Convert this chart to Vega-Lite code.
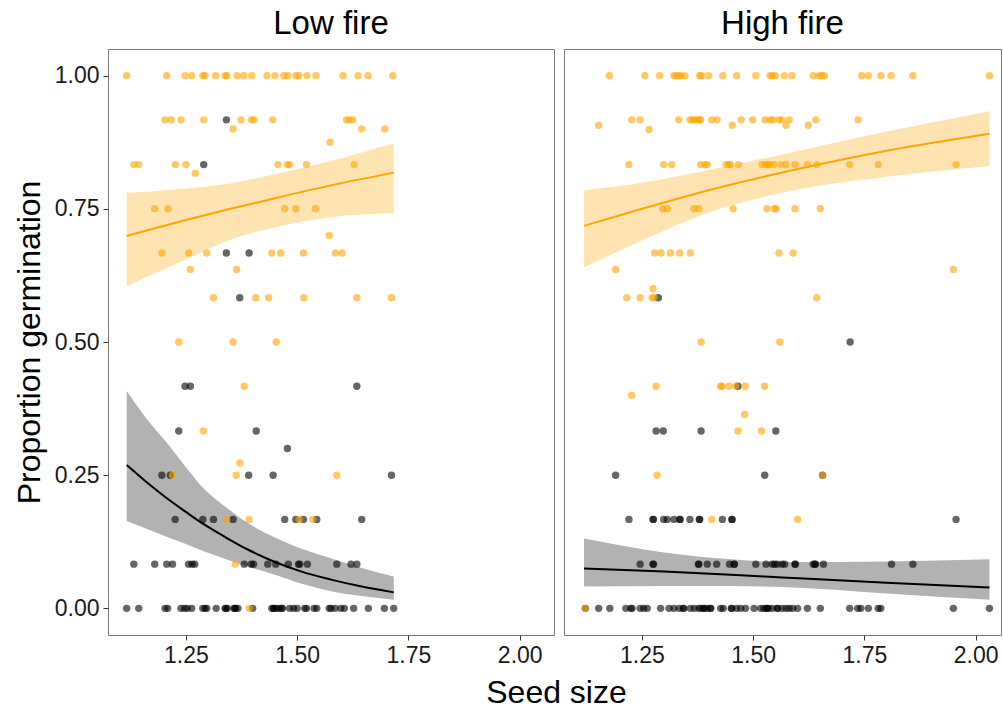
{
"$schema": "https://vega.github.io/schema/vega-lite/v6.json",
"padding": {"left": 12, "top": 7, "right": 0, "bottom": 0},
"spacing": 10,
"bounds": "flush",
"config": {"font": "Liberation Sans", "view": {"stroke": "#7a7a7a", "strokeWidth": 1},
 "axis": {"grid": false, "domain": false, "tickSize": 5, "tickColor": "#333333", "labelColor": "#1a1a1a", "labelFontSize": 23, "labelPadding": 4, "titleFontSize": 32, "titleFontWeight": "normal", "titleColor": "#000000"},
 "title": {"fontSize": 33, "fontWeight": "normal", "color": "#000000", "anchor": "middle", "offset": 8}},
"datasets": {
"model": [
{"p":"Low fire","c":"orange","x":1.117,"fit":0.699,"lo":0.605,"hi":0.780},
{"p":"Low fire","c":"orange","x":1.25,"fit":0.729,"lo":0.655,"hi":0.788},
{"p":"Low fire","c":"orange","x":1.35,"fit":0.750,"lo":0.692,"hi":0.798},
{"p":"Low fire","c":"orange","x":1.45,"fit":0.770,"lo":0.715,"hi":0.815},
{"p":"Low fire","c":"orange","x":1.576,"fit":0.794,"lo":0.734,"hi":0.840},
{"p":"Low fire","c":"orange","x":1.717,"fit":0.818,"lo":0.742,"hi":0.873},
{"p":"Low fire","c":"black","x":1.117,"fit":0.269,"lo":0.164,"hi":0.408},
{"p":"Low fire","c":"black","x":1.16,"fit":0.238,"lo":0.150,"hi":0.358},
{"p":"Low fire","c":"black","x":1.205,"fit":0.208,"lo":0.135,"hi":0.313},
{"p":"Low fire","c":"black","x":1.25,"fit":0.181,"lo":0.121,"hi":0.265},
{"p":"Low fire","c":"black","x":1.29,"fit":0.158,"lo":0.107,"hi":0.225},
{"p":"Low fire","c":"black","x":1.34,"fit":0.133,"lo":0.092,"hi":0.190},
{"p":"Low fire","c":"black","x":1.39,"fit":0.110,"lo":0.078,"hi":0.160},
{"p":"Low fire","c":"black","x":1.45,"fit":0.087,"lo":0.063,"hi":0.133},
{"p":"Low fire","c":"black","x":1.51,"fit":0.069,"lo":0.046,"hi":0.112},
{"p":"Low fire","c":"black","x":1.576,"fit":0.054,"lo":0.032,"hi":0.094},
{"p":"Low fire","c":"black","x":1.645,"fit":0.041,"lo":0.023,"hi":0.076},
{"p":"Low fire","c":"black","x":1.717,"fit":0.030,"lo":0.016,"hi":0.060},
{"p":"High fire","c":"orange","x":1.120,"fit":0.718,"lo":0.640,"hi":0.785},
{"p":"High fire","c":"orange","x":1.25,"fit":0.750,"lo":0.690,"hi":0.799},
{"p":"High fire","c":"orange","x":1.40,"fit":0.785,"lo":0.743,"hi":0.823},
{"p":"High fire","c":"orange","x":1.565,"fit":0.818,"lo":0.780,"hi":0.852},
{"p":"High fire","c":"orange","x":1.80,"fit":0.859,"lo":0.810,"hi":0.895},
{"p":"High fire","c":"orange","x":2.031,"fit":0.891,"lo":0.830,"hi":0.933},
{"p":"High fire","c":"black","x":1.120,"fit":0.075,"lo":0.041,"hi":0.131},
{"p":"High fire","c":"black","x":1.30,"fit":0.069,"lo":0.042,"hi":0.105},
{"p":"High fire","c":"black","x":1.45,"fit":0.063,"lo":0.042,"hi":0.092},
{"p":"High fire","c":"black","x":1.565,"fit":0.058,"lo":0.040,"hi":0.087},
{"p":"High fire","c":"black","x":1.80,"fit":0.048,"lo":0.028,"hi":0.088},
{"p":"High fire","c":"black","x":2.031,"fit":0.039,"lo":0.016,"hi":0.092}
],
"pts": [
{"p":"Low fire","c":"black","x":1.341,"y":0.917},
{"p":"Low fire","c":"black","x":1.290,"y":0.833},
{"p":"Low fire","c":"black","x":1.341,"y":0.667},
{"p":"Low fire","c":"black","x":1.392,"y":0.667},
{"p":"Low fire","c":"black","x":1.371,"y":0.583},
{"p":"Low fire","c":"black","x":1.248,"y":0.417},
{"p":"Low fire","c":"black","x":1.260,"y":0.417},
{"p":"Low fire","c":"black","x":1.634,"y":0.417},
{"p":"Low fire","c":"black","x":1.234,"y":0.333},
{"p":"Low fire","c":"black","x":1.408,"y":0.333},
{"p":"Low fire","c":"black","x":1.478,"y":0.3},
{"p":"Low fire","c":"black","x":1.196,"y":0.25},
{"p":"Low fire","c":"black","x":1.215,"y":0.25},
{"p":"Low fire","c":"black","x":1.391,"y":0.25},
{"p":"Low fire","c":"black","x":1.446,"y":0.25},
{"p":"Low fire","c":"black","x":1.712,"y":0.25},
{"p":"Low fire","c":"black","x":1.226,"y":0.167},
{"p":"Low fire","c":"black","x":1.288,"y":0.167},
{"p":"Low fire","c":"black","x":1.312,"y":0.167},
{"p":"Low fire","c":"black","x":1.356,"y":0.167},
{"p":"Low fire","c":"black","x":1.472,"y":0.167},
{"p":"Low fire","c":"black","x":1.497,"y":0.167},
{"p":"Low fire","c":"black","x":1.514,"y":0.167},
{"p":"Low fire","c":"black","x":1.544,"y":0.167},
{"p":"Low fire","c":"black","x":1.645,"y":0.167},
{"p":"Low fire","c":"black","x":1.133,"y":0.083},
{"p":"Low fire","c":"black","x":1.180,"y":0.083},
{"p":"Low fire","c":"black","x":1.207,"y":0.083},
{"p":"Low fire","c":"black","x":1.220,"y":0.083},
{"p":"Low fire","c":"black","x":1.256,"y":0.083},
{"p":"Low fire","c":"black","x":1.264,"y":0.083},
{"p":"Low fire","c":"black","x":1.270,"y":0.083},
{"p":"Low fire","c":"black","x":1.381,"y":0.083},
{"p":"Low fire","c":"black","x":1.397,"y":0.083},
{"p":"Low fire","c":"black","x":1.402,"y":0.083},
{"p":"Low fire","c":"black","x":1.434,"y":0.083},
{"p":"Low fire","c":"black","x":1.452,"y":0.083},
{"p":"Low fire","c":"black","x":1.480,"y":0.083},
{"p":"Low fire","c":"black","x":1.503,"y":0.083},
{"p":"Low fire","c":"black","x":1.506,"y":0.083},
{"p":"Low fire","c":"black","x":1.523,"y":0.083},
{"p":"Low fire","c":"black","x":1.589,"y":0.083},
{"p":"Low fire","c":"black","x":1.621,"y":0.083},
{"p":"Low fire","c":"black","x":1.634,"y":0.083},
{"p":"Low fire","c":"black","x":1.117,"y":0},
{"p":"Low fire","c":"black","x":1.144,"y":0},
{"p":"Low fire","c":"black","x":1.203,"y":0},
{"p":"Low fire","c":"black","x":1.209,"y":0},
{"p":"Low fire","c":"black","x":1.239,"y":0},
{"p":"Low fire","c":"black","x":1.247,"y":0},
{"p":"Low fire","c":"black","x":1.253,"y":0},
{"p":"Low fire","c":"black","x":1.263,"y":0},
{"p":"Low fire","c":"black","x":1.288,"y":0},
{"p":"Low fire","c":"black","x":1.293,"y":0},
{"p":"Low fire","c":"black","x":1.297,"y":0},
{"p":"Low fire","c":"black","x":1.318,"y":0},
{"p":"Low fire","c":"black","x":1.338,"y":0},
{"p":"Low fire","c":"black","x":1.340,"y":0},
{"p":"Low fire","c":"black","x":1.343,"y":0},
{"p":"Low fire","c":"black","x":1.358,"y":0},
{"p":"Low fire","c":"black","x":1.360,"y":0},
{"p":"Low fire","c":"black","x":1.362,"y":0},
{"p":"Low fire","c":"black","x":1.367,"y":0},
{"p":"Low fire","c":"black","x":1.400,"y":0},
{"p":"Low fire","c":"black","x":1.443,"y":0},
{"p":"Low fire","c":"black","x":1.447,"y":0},
{"p":"Low fire","c":"black","x":1.448,"y":0},
{"p":"Low fire","c":"black","x":1.454,"y":0},
{"p":"Low fire","c":"black","x":1.460,"y":0},
{"p":"Low fire","c":"black","x":1.465,"y":0},
{"p":"Low fire","c":"black","x":1.467,"y":0},
{"p":"Low fire","c":"black","x":1.483,"y":0},
{"p":"Low fire","c":"black","x":1.492,"y":0},
{"p":"Low fire","c":"black","x":1.500,"y":0},
{"p":"Low fire","c":"black","x":1.517,"y":0},
{"p":"Low fire","c":"black","x":1.521,"y":0},
{"p":"Low fire","c":"black","x":1.538,"y":0},
{"p":"Low fire","c":"black","x":1.544,"y":0},
{"p":"Low fire","c":"black","x":1.572,"y":0},
{"p":"Low fire","c":"black","x":1.576,"y":0},
{"p":"Low fire","c":"black","x":1.585,"y":0},
{"p":"Low fire","c":"black","x":1.598,"y":0},
{"p":"Low fire","c":"black","x":1.606,"y":0},
{"p":"Low fire","c":"black","x":1.627,"y":0},
{"p":"Low fire","c":"black","x":1.660,"y":0},
{"p":"Low fire","c":"black","x":1.696,"y":0},
{"p":"Low fire","c":"black","x":1.717,"y":0},
{"p":"Low fire","c":"orange","x":1.117,"y":1},
{"p":"Low fire","c":"orange","x":1.207,"y":1},
{"p":"Low fire","c":"orange","x":1.248,"y":1},
{"p":"Low fire","c":"orange","x":1.263,"y":1},
{"p":"Low fire","c":"orange","x":1.288,"y":1},
{"p":"Low fire","c":"orange","x":1.293,"y":1},
{"p":"Low fire","c":"orange","x":1.317,"y":1},
{"p":"Low fire","c":"orange","x":1.338,"y":1},
{"p":"Low fire","c":"orange","x":1.342,"y":1},
{"p":"Low fire","c":"orange","x":1.365,"y":1},
{"p":"Low fire","c":"orange","x":1.380,"y":1},
{"p":"Low fire","c":"orange","x":1.398,"y":1},
{"p":"Low fire","c":"orange","x":1.432,"y":1},
{"p":"Low fire","c":"orange","x":1.450,"y":1},
{"p":"Low fire","c":"orange","x":1.470,"y":1},
{"p":"Low fire","c":"orange","x":1.479,"y":1},
{"p":"Low fire","c":"orange","x":1.497,"y":1},
{"p":"Low fire","c":"orange","x":1.504,"y":1},
{"p":"Low fire","c":"orange","x":1.522,"y":1},
{"p":"Low fire","c":"orange","x":1.542,"y":1},
{"p":"Low fire","c":"orange","x":1.603,"y":1},
{"p":"Low fire","c":"orange","x":1.637,"y":1},
{"p":"Low fire","c":"orange","x":1.659,"y":1},
{"p":"Low fire","c":"orange","x":1.715,"y":1},
{"p":"Low fire","c":"orange","x":1.203,"y":0.917},
{"p":"Low fire","c":"orange","x":1.217,"y":0.917},
{"p":"Low fire","c":"orange","x":1.239,"y":0.917},
{"p":"Low fire","c":"orange","x":1.290,"y":0.917},
{"p":"Low fire","c":"orange","x":1.374,"y":0.917},
{"p":"Low fire","c":"orange","x":1.397,"y":0.917},
{"p":"Low fire","c":"orange","x":1.403,"y":0.917},
{"p":"Low fire","c":"orange","x":1.445,"y":0.917},
{"p":"Low fire","c":"orange","x":1.611,"y":0.917},
{"p":"Low fire","c":"orange","x":1.617,"y":0.917},
{"p":"Low fire","c":"orange","x":1.625,"y":0.917},
{"p":"Low fire","c":"orange","x":1.356,"y":0.9},
{"p":"Low fire","c":"orange","x":1.645,"y":0.9},
{"p":"Low fire","c":"orange","x":1.697,"y":0.9},
{"p":"Low fire","c":"orange","x":1.574,"y":0.875},
{"p":"Low fire","c":"orange","x":1.133,"y":0.833},
{"p":"Low fire","c":"orange","x":1.144,"y":0.833},
{"p":"Low fire","c":"orange","x":1.226,"y":0.833},
{"p":"Low fire","c":"orange","x":1.250,"y":0.833},
{"p":"Low fire","c":"orange","x":1.457,"y":0.833},
{"p":"Low fire","c":"orange","x":1.478,"y":0.833},
{"p":"Low fire","c":"orange","x":1.483,"y":0.833},
{"p":"Low fire","c":"orange","x":1.521,"y":0.833},
{"p":"Low fire","c":"orange","x":1.628,"y":0.833},
{"p":"Low fire","c":"orange","x":1.271,"y":0.817},
{"p":"Low fire","c":"orange","x":1.180,"y":0.75},
{"p":"Low fire","c":"orange","x":1.210,"y":0.75},
{"p":"Low fire","c":"orange","x":1.472,"y":0.75},
{"p":"Low fire","c":"orange","x":1.497,"y":0.75},
{"p":"Low fire","c":"orange","x":1.541,"y":0.75},
{"p":"Low fire","c":"orange","x":1.572,"y":0.7},
{"p":"Low fire","c":"orange","x":1.196,"y":0.667},
{"p":"Low fire","c":"orange","x":1.256,"y":0.667},
{"p":"Low fire","c":"orange","x":1.297,"y":0.667},
{"p":"Low fire","c":"orange","x":1.443,"y":0.667},
{"p":"Low fire","c":"orange","x":1.463,"y":0.667},
{"p":"Low fire","c":"orange","x":1.514,"y":0.667},
{"p":"Low fire","c":"orange","x":1.586,"y":0.667},
{"p":"Low fire","c":"orange","x":1.601,"y":0.667},
{"p":"Low fire","c":"orange","x":1.260,"y":0.636},
{"p":"Low fire","c":"orange","x":1.364,"y":0.636},
{"p":"Low fire","c":"orange","x":1.312,"y":0.583},
{"p":"Low fire","c":"orange","x":1.407,"y":0.583},
{"p":"Low fire","c":"orange","x":1.436,"y":0.583},
{"p":"Low fire","c":"orange","x":1.515,"y":0.583},
{"p":"Low fire","c":"orange","x":1.634,"y":0.583},
{"p":"Low fire","c":"orange","x":1.712,"y":0.583},
{"p":"Low fire","c":"orange","x":1.234,"y":0.5},
{"p":"Low fire","c":"orange","x":1.356,"y":0.5},
{"p":"Low fire","c":"orange","x":1.453,"y":0.5},
{"p":"Low fire","c":"orange","x":1.381,"y":0.417},
{"p":"Low fire","c":"orange","x":1.289,"y":0.333},
{"p":"Low fire","c":"orange","x":1.371,"y":0.273},
{"p":"Low fire","c":"orange","x":1.220,"y":0.25},
{"p":"Low fire","c":"orange","x":1.363,"y":0.25},
{"p":"Low fire","c":"orange","x":1.589,"y":0.25},
{"p":"Low fire","c":"orange","x":1.341,"y":0.167},
{"p":"Low fire","c":"orange","x":1.392,"y":0.167},
{"p":"Low fire","c":"orange","x":1.505,"y":0.167},
{"p":"Low fire","c":"orange","x":1.535,"y":0.167},
{"p":"Low fire","c":"orange","x":1.361,"y":0.083},
{"p":"Low fire","c":"orange","x":1.392,"y":0},
{"p":"High fire","c":"black","x":1.287,"y":0.583},
{"p":"High fire","c":"black","x":1.718,"y":0.5},
{"p":"High fire","c":"black","x":1.466,"y":0.417},
{"p":"High fire","c":"black","x":1.282,"y":0.333},
{"p":"High fire","c":"black","x":1.298,"y":0.333},
{"p":"High fire","c":"black","x":1.383,"y":0.333},
{"p":"High fire","c":"black","x":1.551,"y":0.333},
{"p":"High fire","c":"black","x":1.191,"y":0.25},
{"p":"High fire","c":"black","x":1.526,"y":0.25},
{"p":"High fire","c":"black","x":1.656,"y":0.25},
{"p":"High fire","c":"black","x":1.221,"y":0.167},
{"p":"High fire","c":"black","x":1.275,"y":0.167},
{"p":"High fire","c":"black","x":1.276,"y":0.167},
{"p":"High fire","c":"black","x":1.299,"y":0.167},
{"p":"High fire","c":"black","x":1.307,"y":0.167},
{"p":"High fire","c":"black","x":1.322,"y":0.167},
{"p":"High fire","c":"black","x":1.335,"y":0.167},
{"p":"High fire","c":"black","x":1.336,"y":0.167},
{"p":"High fire","c":"black","x":1.358,"y":0.167},
{"p":"High fire","c":"black","x":1.379,"y":0.167},
{"p":"High fire","c":"black","x":1.380,"y":0.167},
{"p":"High fire","c":"black","x":1.431,"y":0.167},
{"p":"High fire","c":"black","x":1.452,"y":0.167},
{"p":"High fire","c":"black","x":1.453,"y":0.167},
{"p":"High fire","c":"black","x":1.956,"y":0.167},
{"p":"High fire","c":"black","x":1.246,"y":0.083},
{"p":"High fire","c":"black","x":1.275,"y":0.083},
{"p":"High fire","c":"black","x":1.276,"y":0.083},
{"p":"High fire","c":"black","x":1.377,"y":0.083},
{"p":"High fire","c":"black","x":1.378,"y":0.083},
{"p":"High fire","c":"black","x":1.397,"y":0.083},
{"p":"High fire","c":"black","x":1.418,"y":0.083},
{"p":"High fire","c":"black","x":1.447,"y":0.083},
{"p":"High fire","c":"black","x":1.457,"y":0.083},
{"p":"High fire","c":"black","x":1.458,"y":0.083},
{"p":"High fire","c":"black","x":1.506,"y":0.083},
{"p":"High fire","c":"black","x":1.529,"y":0.083},
{"p":"High fire","c":"black","x":1.543,"y":0.083},
{"p":"High fire","c":"black","x":1.548,"y":0.083},
{"p":"High fire","c":"black","x":1.554,"y":0.083},
{"p":"High fire","c":"black","x":1.565,"y":0.083},
{"p":"High fire","c":"black","x":1.571,"y":0.083},
{"p":"High fire","c":"black","x":1.594,"y":0.083},
{"p":"High fire","c":"black","x":1.595,"y":0.083},
{"p":"High fire","c":"black","x":1.635,"y":0.083},
{"p":"High fire","c":"black","x":1.639,"y":0.083},
{"p":"High fire","c":"black","x":1.640,"y":0.083},
{"p":"High fire","c":"black","x":1.658,"y":0.083},
{"p":"High fire","c":"black","x":1.811,"y":0.083},
{"p":"High fire","c":"black","x":1.859,"y":0.083},
{"p":"High fire","c":"black","x":1.123,"y":0},
{"p":"High fire","c":"black","x":1.153,"y":0},
{"p":"High fire","c":"black","x":1.178,"y":0},
{"p":"High fire","c":"black","x":1.214,"y":0},
{"p":"High fire","c":"black","x":1.225,"y":0},
{"p":"High fire","c":"black","x":1.228,"y":0},
{"p":"High fire","c":"black","x":1.246,"y":0},
{"p":"High fire","c":"black","x":1.254,"y":0},
{"p":"High fire","c":"black","x":1.262,"y":0},
{"p":"High fire","c":"black","x":1.292,"y":0},
{"p":"High fire","c":"black","x":1.311,"y":0},
{"p":"High fire","c":"black","x":1.322,"y":0},
{"p":"High fire","c":"black","x":1.334,"y":0},
{"p":"High fire","c":"black","x":1.343,"y":0},
{"p":"High fire","c":"black","x":1.344,"y":0},
{"p":"High fire","c":"black","x":1.359,"y":0},
{"p":"High fire","c":"black","x":1.368,"y":0},
{"p":"High fire","c":"black","x":1.378,"y":0},
{"p":"High fire","c":"black","x":1.383,"y":0},
{"p":"High fire","c":"black","x":1.389,"y":0},
{"p":"High fire","c":"black","x":1.390,"y":0},
{"p":"High fire","c":"black","x":1.397,"y":0},
{"p":"High fire","c":"black","x":1.404,"y":0},
{"p":"High fire","c":"black","x":1.405,"y":0},
{"p":"High fire","c":"black","x":1.427,"y":0},
{"p":"High fire","c":"black","x":1.433,"y":0},
{"p":"High fire","c":"black","x":1.451,"y":0},
{"p":"High fire","c":"black","x":1.452,"y":0},
{"p":"High fire","c":"black","x":1.463,"y":0},
{"p":"High fire","c":"black","x":1.472,"y":0},
{"p":"High fire","c":"black","x":1.483,"y":0},
{"p":"High fire","c":"black","x":1.502,"y":0},
{"p":"High fire","c":"black","x":1.517,"y":0},
{"p":"High fire","c":"black","x":1.524,"y":0},
{"p":"High fire","c":"black","x":1.530,"y":0},
{"p":"High fire","c":"black","x":1.531,"y":0},
{"p":"High fire","c":"black","x":1.535,"y":0},
{"p":"High fire","c":"black","x":1.543,"y":0},
{"p":"High fire","c":"black","x":1.554,"y":0},
{"p":"High fire","c":"black","x":1.555,"y":0},
{"p":"High fire","c":"black","x":1.565,"y":0},
{"p":"High fire","c":"black","x":1.574,"y":0},
{"p":"High fire","c":"black","x":1.581,"y":0},
{"p":"High fire","c":"black","x":1.589,"y":0},
{"p":"High fire","c":"black","x":1.600,"y":0},
{"p":"High fire","c":"black","x":1.622,"y":0},
{"p":"High fire","c":"black","x":1.651,"y":0},
{"p":"High fire","c":"black","x":1.717,"y":0},
{"p":"High fire","c":"black","x":1.735,"y":0},
{"p":"High fire","c":"black","x":1.742,"y":0},
{"p":"High fire","c":"black","x":1.759,"y":0},
{"p":"High fire","c":"black","x":1.781,"y":0},
{"p":"High fire","c":"black","x":1.787,"y":0},
{"p":"High fire","c":"black","x":1.950,"y":0},
{"p":"High fire","c":"black","x":2.031,"y":0},
{"p":"High fire","c":"orange","x":1.177,"y":1},
{"p":"High fire","c":"orange","x":1.257,"y":1},
{"p":"High fire","c":"orange","x":1.290,"y":1},
{"p":"High fire","c":"orange","x":1.322,"y":1},
{"p":"High fire","c":"orange","x":1.327,"y":1},
{"p":"High fire","c":"orange","x":1.333,"y":1},
{"p":"High fire","c":"orange","x":1.338,"y":1},
{"p":"High fire","c":"orange","x":1.347,"y":1},
{"p":"High fire","c":"orange","x":1.380,"y":1},
{"p":"High fire","c":"orange","x":1.384,"y":1},
{"p":"High fire","c":"orange","x":1.400,"y":1},
{"p":"High fire","c":"orange","x":1.432,"y":1},
{"p":"High fire","c":"orange","x":1.463,"y":1},
{"p":"High fire","c":"orange","x":1.506,"y":1},
{"p":"High fire","c":"orange","x":1.538,"y":1},
{"p":"High fire","c":"orange","x":1.543,"y":1},
{"p":"High fire","c":"orange","x":1.550,"y":1},
{"p":"High fire","c":"orange","x":1.570,"y":1},
{"p":"High fire","c":"orange","x":1.587,"y":1},
{"p":"High fire","c":"orange","x":1.635,"y":1},
{"p":"High fire","c":"orange","x":1.648,"y":1},
{"p":"High fire","c":"orange","x":1.654,"y":1},
{"p":"High fire","c":"orange","x":1.660,"y":1},
{"p":"High fire","c":"orange","x":1.744,"y":1},
{"p":"High fire","c":"orange","x":1.759,"y":1},
{"p":"High fire","c":"orange","x":1.787,"y":1},
{"p":"High fire","c":"orange","x":1.810,"y":1},
{"p":"High fire","c":"orange","x":1.859,"y":1},
{"p":"High fire","c":"orange","x":2.031,"y":1},
{"p":"High fire","c":"orange","x":1.227,"y":0.917},
{"p":"High fire","c":"orange","x":1.246,"y":0.917},
{"p":"High fire","c":"orange","x":1.333,"y":0.917},
{"p":"High fire","c":"orange","x":1.358,"y":0.917},
{"p":"High fire","c":"orange","x":1.363,"y":0.917},
{"p":"High fire","c":"orange","x":1.369,"y":0.917},
{"p":"High fire","c":"orange","x":1.375,"y":0.917},
{"p":"High fire","c":"orange","x":1.380,"y":0.917},
{"p":"High fire","c":"orange","x":1.382,"y":0.917},
{"p":"High fire","c":"orange","x":1.407,"y":0.917},
{"p":"High fire","c":"orange","x":1.419,"y":0.917},
{"p":"High fire","c":"orange","x":1.473,"y":0.917},
{"p":"High fire","c":"orange","x":1.499,"y":0.917},
{"p":"High fire","c":"orange","x":1.527,"y":0.917},
{"p":"High fire","c":"orange","x":1.538,"y":0.917},
{"p":"High fire","c":"orange","x":1.545,"y":0.917},
{"p":"High fire","c":"orange","x":1.558,"y":0.917},
{"p":"High fire","c":"orange","x":1.565,"y":0.917},
{"p":"High fire","c":"orange","x":1.581,"y":0.917},
{"p":"High fire","c":"orange","x":1.641,"y":0.917},
{"p":"High fire","c":"orange","x":1.736,"y":0.917},
{"p":"High fire","c":"orange","x":1.153,"y":0.907},
{"p":"High fire","c":"orange","x":1.453,"y":0.907},
{"p":"High fire","c":"orange","x":1.574,"y":0.907},
{"p":"High fire","c":"orange","x":1.624,"y":0.907},
{"p":"High fire","c":"orange","x":1.266,"y":0.899},
{"p":"High fire","c":"orange","x":1.221,"y":0.833},
{"p":"High fire","c":"orange","x":1.299,"y":0.833},
{"p":"High fire","c":"orange","x":1.317,"y":0.833},
{"p":"High fire","c":"orange","x":1.382,"y":0.833},
{"p":"High fire","c":"orange","x":1.392,"y":0.833},
{"p":"High fire","c":"orange","x":1.397,"y":0.833},
{"p":"High fire","c":"orange","x":1.439,"y":0.833},
{"p":"High fire","c":"orange","x":1.445,"y":0.833},
{"p":"High fire","c":"orange","x":1.449,"y":0.833},
{"p":"High fire","c":"orange","x":1.467,"y":0.833},
{"p":"High fire","c":"orange","x":1.520,"y":0.833},
{"p":"High fire","c":"orange","x":1.528,"y":0.833},
{"p":"High fire","c":"orange","x":1.533,"y":0.833},
{"p":"High fire","c":"orange","x":1.537,"y":0.833},
{"p":"High fire","c":"orange","x":1.547,"y":0.833},
{"p":"High fire","c":"orange","x":1.563,"y":0.833},
{"p":"High fire","c":"orange","x":1.574,"y":0.833},
{"p":"High fire","c":"orange","x":1.594,"y":0.833},
{"p":"High fire","c":"orange","x":1.622,"y":0.833},
{"p":"High fire","c":"orange","x":1.643,"y":0.833},
{"p":"High fire","c":"orange","x":1.717,"y":0.833},
{"p":"High fire","c":"orange","x":1.781,"y":0.833},
{"p":"High fire","c":"orange","x":1.956,"y":0.833},
{"p":"High fire","c":"orange","x":1.297,"y":0.75},
{"p":"High fire","c":"orange","x":1.307,"y":0.75},
{"p":"High fire","c":"orange","x":1.367,"y":0.75},
{"p":"High fire","c":"orange","x":1.378,"y":0.75},
{"p":"High fire","c":"orange","x":1.455,"y":0.75},
{"p":"High fire","c":"orange","x":1.531,"y":0.75},
{"p":"High fire","c":"orange","x":1.547,"y":0.75},
{"p":"High fire","c":"orange","x":1.552,"y":0.75},
{"p":"High fire","c":"orange","x":1.594,"y":0.75},
{"p":"High fire","c":"orange","x":1.651,"y":0.75},
{"p":"High fire","c":"orange","x":1.279,"y":0.667},
{"p":"High fire","c":"orange","x":1.293,"y":0.667},
{"p":"High fire","c":"orange","x":1.314,"y":0.667},
{"p":"High fire","c":"orange","x":1.335,"y":0.667},
{"p":"High fire","c":"orange","x":1.359,"y":0.667},
{"p":"High fire","c":"orange","x":1.558,"y":0.667},
{"p":"High fire","c":"orange","x":1.590,"y":0.667},
{"p":"High fire","c":"orange","x":1.191,"y":0.636},
{"p":"High fire","c":"orange","x":1.950,"y":0.636},
{"p":"High fire","c":"orange","x":1.275,"y":0.6},
{"p":"High fire","c":"orange","x":1.216,"y":0.583},
{"p":"High fire","c":"orange","x":1.246,"y":0.583},
{"p":"High fire","c":"orange","x":1.273,"y":0.583},
{"p":"High fire","c":"orange","x":1.277,"y":0.583},
{"p":"High fire","c":"orange","x":1.643,"y":0.583},
{"p":"High fire","c":"orange","x":1.383,"y":0.5},
{"p":"High fire","c":"orange","x":1.560,"y":0.5},
{"p":"High fire","c":"orange","x":1.282,"y":0.417},
{"p":"High fire","c":"orange","x":1.427,"y":0.417},
{"p":"High fire","c":"orange","x":1.430,"y":0.417},
{"p":"High fire","c":"orange","x":1.446,"y":0.417},
{"p":"High fire","c":"orange","x":1.461,"y":0.417},
{"p":"High fire","c":"orange","x":1.482,"y":0.417},
{"p":"High fire","c":"orange","x":1.526,"y":0.417},
{"p":"High fire","c":"orange","x":1.227,"y":0.4},
{"p":"High fire","c":"orange","x":1.481,"y":0.364},
{"p":"High fire","c":"orange","x":1.466,"y":0.333},
{"p":"High fire","c":"orange","x":1.519,"y":0.333},
{"p":"High fire","c":"orange","x":1.284,"y":0.25},
{"p":"High fire","c":"orange","x":1.656,"y":0.25},
{"p":"High fire","c":"orange","x":1.407,"y":0.167},
{"p":"High fire","c":"orange","x":1.600,"y":0.167},
{"p":"High fire","c":"orange","x":1.123,"y":0}
]},
"hconcat": [
{
 "width": 446, "height": 586,
 "title": {"text": "Low fire"},
 "layer": [
  {"data": {"name": "model"}, "transform": [{"filter": "datum.p === 'Low fire'"}],
   "mark": {"type": "area", "opacity": 0.3, "interpolate": "monotone"},
   "encoding": {
    "x": {"field": "x", "type": "quantitative", "scale": {"domain": [1.075, 2.077], "nice": false, "zero": false},
     "axis": {"values": [1.25, 1.5, 1.75, 2.0], "format": ".2f", "title": "Seed size", "titleX": 448, "titlePadding": 10}},
    "y": {"field": "lo", "type": "quantitative", "scale": {"domain": [-0.05, 1.05], "nice": false, "zero": false},
     "axis": {"values": [0, 0.25, 0.5, 0.75, 1], "format": ".2f", "title": "Proportion germination", "titlePadding": 8}},
    "y2": {"field": "hi"},
    "color": {"field": "c", "type": "nominal", "scale": {"domain": ["orange", "black"], "range": ["#FFA500", "#000000"]}, "legend": null}
   }},
  {"data": {"name": "model"}, "transform": [{"filter": "datum.p === 'Low fire'"}],
   "mark": {"type": "line", "strokeWidth": 2, "interpolate": "monotone"},
   "encoding": {
    "x": {"field": "x", "type": "quantitative"},
    "y": {"field": "fit", "type": "quantitative"},
    "color": {"field": "c", "type": "nominal", "legend": null}
   }},
  {"data": {"name": "pts"}, "transform": [{"filter": "datum.p === 'Low fire'"}],
   "mark": {"type": "circle", "size": 55, "opacity": 0.6},
   "encoding": {
    "x": {"field": "x", "type": "quantitative"},
    "y": {"field": "y", "type": "quantitative"},
    "color": {"field": "c", "type": "nominal", "legend": null}
   }}
 ]
},
{
 "width": 437, "height": 586,
 "title": {"text": "High fire"},
 "layer": [
  {"data": {"name": "model"}, "transform": [{"filter": "datum.p === 'High fire'"}],
   "mark": {"type": "area", "opacity": 0.3, "interpolate": "monotone"},
   "encoding": {
    "x": {"field": "x", "type": "quantitative", "scale": {"domain": [1.075, 2.057], "nice": false, "zero": false},
     "axis": {"values": [1.25, 1.5, 1.75, 2.0], "format": ".2f", "title": null}},
    "y": {"field": "lo", "type": "quantitative", "scale": {"domain": [-0.05, 1.05], "nice": false, "zero": false}, "axis": null},
    "y2": {"field": "hi"},
    "color": {"field": "c", "type": "nominal", "scale": {"domain": ["orange", "black"], "range": ["#FFA500", "#000000"]}, "legend": null}
   }},
  {"data": {"name": "model"}, "transform": [{"filter": "datum.p === 'High fire'"}],
   "mark": {"type": "line", "strokeWidth": 2, "interpolate": "monotone"},
   "encoding": {
    "x": {"field": "x", "type": "quantitative"},
    "y": {"field": "fit", "type": "quantitative"},
    "color": {"field": "c", "type": "nominal", "legend": null}
   }},
  {"data": {"name": "pts"}, "transform": [{"filter": "datum.p === 'High fire'"}],
   "mark": {"type": "circle", "size": 55, "opacity": 0.6},
   "encoding": {
    "x": {"field": "x", "type": "quantitative"},
    "y": {"field": "y", "type": "quantitative"},
    "color": {"field": "c", "type": "nominal", "legend": null}
   }}
 ]
}
]
}
